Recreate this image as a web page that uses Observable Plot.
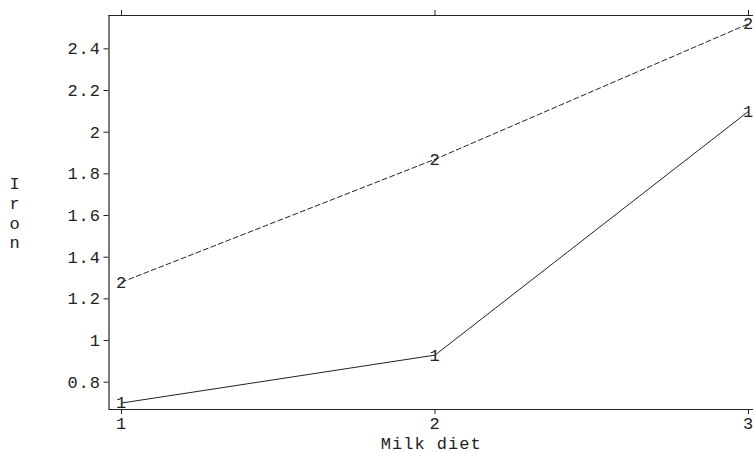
<!DOCTYPE html>
<html>
<head>
<meta charset="utf-8">
<script src="https://cdn.jsdelivr.net/npm/d3@7"></script>
<script src="https://cdn.jsdelivr.net/npm/@observablehq/plot@0.6"></script>
<style>
  html, body { margin: 0; padding: 0; background: #fff; }
  svg { display: block; }
  svg text { letter-spacing: 1px; }
</style>
</head>
<body>
<div id="chart"></div>
<script>
const diets = [1, 2, 3];
const group1 = [0.70, 0.93, 2.10];
const group2 = [1.28, 1.87, 2.52];
const groupLabels = ["1", "2"];
const xTicks = [1, 2, 3];
const yTicks = [0.8, 1, 1.2, 1.4, 1.6, 1.8, 2, 2.2, 2.4];

const rows = [];
diets.forEach((d, i) => rows.push({diet: d, iron: group1[i], group: groupLabels[0]}));
diets.forEach((d, i) => rows.push({diet: d, iron: group2[i], group: groupLabels[1]}));

const font = "'Liberation Mono', 'Courier New', monospace";
const xDom = [0.96, 3.016];
const yDom = [0.669, 2.56];

const chart = Plot.plot({
  width: 753,
  height: 453,
  marginLeft: 108.5,
  marginRight: 0,
  marginTop: 15,
  marginBottom: 44,
  style: {fontFamily: font, fontSize: "17px", color: "#222", background: "#fff"},
  x: {domain: xDom},
  y: {domain: yDom},
  marks: [
    Plot.ruleX([xDom[0]], {stroke: "#222", strokeWidth: 1.2}),
    Plot.ruleY([yDom[0], yDom[1]], {stroke: "#222", strokeWidth: 1.2}),
    Plot.axisY({ticks: yTicks, tickSize: 5, tickPadding: 3, tickFormat: d => String(d), label: null, fontSize: 17}),
    Plot.axisX({ticks: xTicks, tickSize: 5, tickPadding: 2, tickFormat: d => String(d), label: null, anchor: "bottom", fontSize: 17}),
    Plot.axisX({ticks: xTicks, tickSize: 6, tickFormat: () => "", label: null, anchor: "top"}),
    Plot.line(rows.filter(r => r.group === "1"), {x: "diet", y: "iron", stroke: "#222", strokeWidth: 1}),
    Plot.line(rows.filter(r => r.group === "2"), {x: "diet", y: "iron", stroke: "#222", strokeWidth: 1, strokeDasharray: "5,3"}),
    Plot.text(rows, {x: "diet", y: "iron", text: "group", fill: "#222", fontSize: 17}),
    Plot.text(["Milk diet"], {frameAnchor: "bottom", lineAnchor: "middle", textAnchor: "middle", dy: 34, fill: "#222", fontSize: 17}),
    Plot.text(["I\nr\no\nn"], {frameAnchor: "left", textAnchor: "middle", dx: -94, lineHeight: 1.15, fill: "#222", fontSize: 17})
  ]
});
document.getElementById("chart").appendChild(chart);
</script>
</body>
</html>
